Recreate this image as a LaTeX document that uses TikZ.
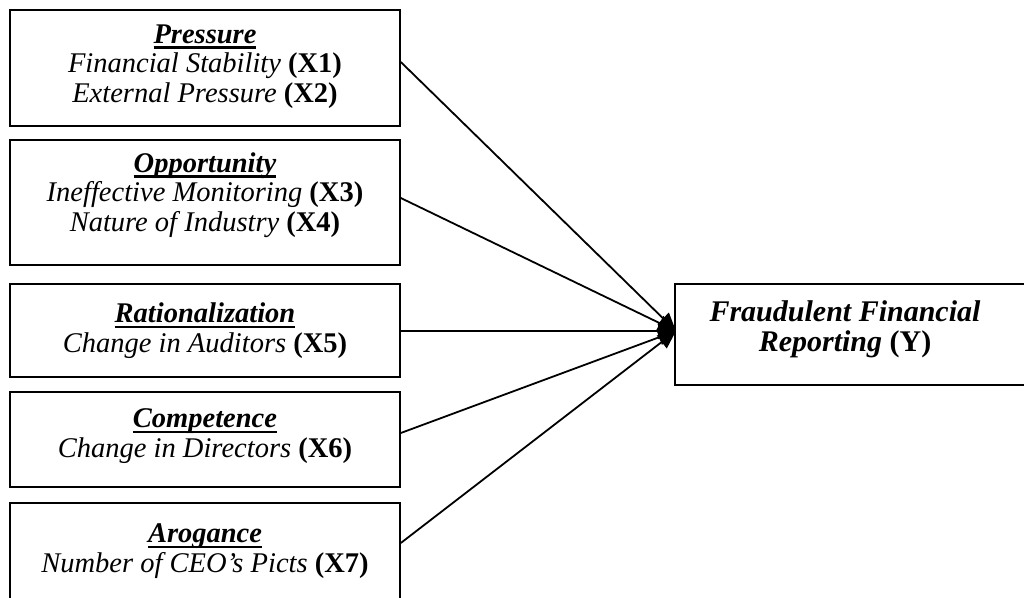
\documentclass[tikz,border=0pt]{standalone}
\usepackage{fontspec}
\setmainfont{Liberation Serif}
\usetikzlibrary{arrows.meta}
\newsavebox{\hdbox}
\newcommand{\hd}[1]{\sbox{\hdbox}{\textbf{\textit{#1}}}\rlap{\usebox{\hdbox}}\rule[-5.5pt]{\wd\hdbox}{2.4pt}}
\begin{document}
\begin{tikzpicture}[x=1pt,y=-1pt,
  box/.style={draw, line width=1.6pt, minimum width=390pt, inner sep=0pt},
  txt/.style={align=center, inner sep=0pt, anchor=base, font=\fontsize{28.5}{29.5}\selectfont},
  conn/.style={line width=1.8pt, -{Triangle[length=18pt,width=16pt]}}]
\useasboundingbox (0,0) rectangle (1024,597);
\clip (0,0) rectangle (1024,597);
% boxes
\node[box, minimum height=116pt] (b1) at (205,68) {};
\node[box, minimum height=125pt] (b2) at (205,202.5) {};
\node[box, minimum height=93pt] (b3) at (205,330.5) {};
\node[box, minimum height=95pt] (b4) at (205,439.5) {};
\node[box, minimum height=102pt] (b5) at (205,554) {};
\node[box, minimum width=356pt, minimum height=101pt] (y) at (853,334.5) {};
% texts (anchored at the baseline of the last line)
\node[txt] (t1) at (205,102) {\hd{Pressure}\\ \textit{Financial Stability} \textbf{(X1)}\\ \textit{External Pressure} \textbf{(X2)}};
\node[txt] (t2) at (205,231) {\hd{Opportunity}\\ \textit{Ineffective Monitoring} \textbf{(X3)}\\ \textit{Nature of Industry} \textbf{(X4)}};
\node[txt] (t3) at (205,352) {\hd{Rationalization}\\ \textit{Change in Auditors} \textbf{(X5)}};
\node[txt] (t4) at (205,457) {\hd{Competence}\\ \textit{Change in Directors} \textbf{(X6)}};
\node[txt] (t5) at (205,572) {\hd{Arogance}\\ \textit{Number of CEO’s Picts} \textbf{(X7)}};
\node[txt, font=\fontsize{30}{30}\selectfont] (ty) at (845,351) {\textbf{\textit{Fraudulent Financial}}\\ \textbf{\textit{Reporting} (Y)}};
% connectors
\coordinate (tip) at (676,331);
\draw[conn] ([yshift=6pt]b1.east) -- (tip);
\draw[conn] ([yshift=4.5pt]b2.east) -- (tip);
\draw[conn] ([yshift=-0.5pt]b3.east) -- (tip);
\draw[conn] ([yshift=6.5pt]b4.east) -- (tip);
\draw[conn] ([yshift=11pt]b5.east) -- (tip);
\end{tikzpicture}
\end{document}
